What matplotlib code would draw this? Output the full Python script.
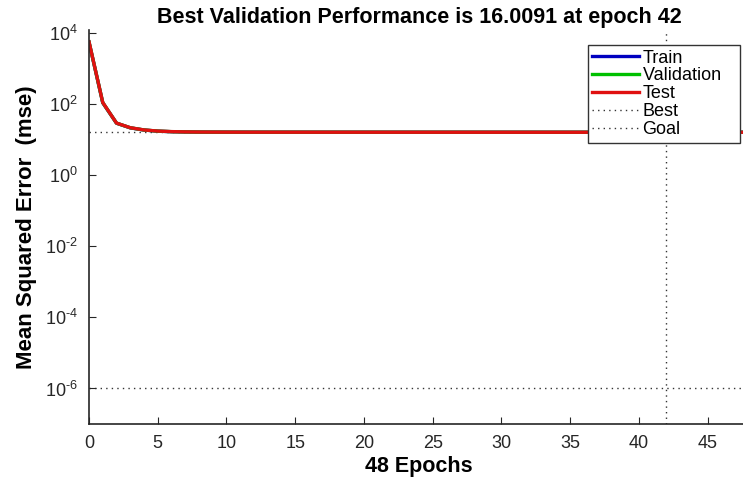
import matplotlib.pyplot as plt
import numpy as np

plt.rcParams['font.family'] = ['Liberation Sans', 'DejaVu Sans']
plt.rcParams['mathtext.fontset'] = 'custom'
plt.rcParams['mathtext.rm'] = 'Liberation Sans'

# performance per epoch
epochs = np.arange(0, 49)
test_mse = [5600, 110, 29, 21.5, 18.6, 17.3, 16.7, 16.4, 16.25, 16.18,
             16.14, 16.11, 16.1, 16.09, 16.08, 16.08, 16.07, 16.07, 16.06, 16.06,
             16.06, 16.05, 16.05, 16.05, 16.04, 16.04, 16.04, 16.03, 16.03, 16.03,
             16.03, 16.02, 16.02, 16.02, 16.02, 16.02, 16.01, 16.01, 16.01, 16.01,
             16.01, 16.01, 16.01, 16.01, 16.01, 16.01, 16.01, 16.01, 16.01]
train_mse = [5500, 108, 28.8, 21.3, 18.5, 17.2, 16.6, 16.35, 16.2, 16.15,
              16.12, 16.1, 16.09, 16.08, 16.07, 16.07, 16.06, 16.06, 16.05, 16.05,
              16.05, 16.04, 16.04, 16.04, 16.03, 16.03, 16.03, 16.03, 16.02, 16.02,
              16.02, 16.02, 16.02, 16.01, 16.01, 16.01, 16.01, 16.01, 16.01, 16.01,
              16.01, 16.01, 16.01, 16.01, 16.01, 16.01, 16.01, 16.01, 16.01]
val_mse = [5550, 109, 28.9, 21.4, 18.55, 17.25, 16.65, 16.38, 16.22, 16.16,
            16.13, 16.1, 16.09, 16.08, 16.08, 16.07, 16.07, 16.06, 16.06, 16.05,
            16.05, 16.05, 16.04, 16.04, 16.04, 16.03, 16.03, 16.03, 16.03, 16.02,
            16.02, 16.02, 16.02, 16.02, 16.01, 16.01, 16.01, 16.01, 16.01, 16.01,
            16.01, 16.0091, 16.0091, 16.01, 16.01, 16.01, 16.01, 16.01, 16.01]
best_epoch = 42
best_perf = 16.0091
goal = 1e-6
n_epochs = 48
ytick_exps = [-6, -4, -2, 0, 2, 4]

fig = plt.figure(figsize=(7.43, 4.79), dpi=100)
ax = fig.add_axes([0.1198, 0.1148, 0.888, 0.8225])

# trailing spaces give the legend box its extra right padding
ax.plot(epochs, train_mse, color='#0000c0', lw=2.4, label='Train')
ax.plot(epochs, val_mse, color='#00c000', lw=2.4, label='Validation   ')
ax.plot(epochs, test_mse, color='#e01010', lw=2.4, label='Test')
ax.axhline(best_perf, color='#333333', ls=(0, (1, 3)), lw=1, label='Best', zorder=1)
ax.axvline(best_epoch, color='#333333', ls=(0, (1, 3)), lw=1, zorder=1)
ax.axhline(goal, color='#333333', ls=(0, (1, 3)), lw=1, label='Goal', zorder=1)

ax.set_yscale('log')
ax.set_xlim(0, n_epochs)
ax.set_ylim(1e-7, 1.2e4)
ax.set_yticks([10.0 ** e for e in ytick_exps])
ax.set_yticklabels([r'$\mathregular{10^{%s}}$' % (r'\text{-}%d' % -e if e < 0 else str(e))
                    for e in ytick_exps])
ax.yaxis.set_minor_locator(plt.NullLocator())
ax.set_xticks(np.arange(0, 46, 5))

for s in ['top', 'right']:
    ax.spines[s].set_visible(False)
for s in ['left', 'bottom']:
    ax.spines[s].set_color('#262626')
    ax.spines[s].set_linewidth(1.2)
ax.tick_params(direction='in', length=5, labelsize=13, colors='#262626', pad=8)

ax.set_title('Best Validation Performance is 16.0091 at epoch 42',
             fontsize=15.5, fontweight='bold', pad=5)
ax.set_xlabel('48 Epochs', fontsize=15.5, fontweight='bold', labelpad=3)
ax.set_ylabel('Mean Squared Error  (mse)', fontsize=16, fontweight='bold', labelpad=6)

leg = ax.legend(loc='upper right', bbox_to_anchor=(0.987, 0.962), fontsize=13,
                handlelength=2.6, handletextpad=0.2, borderpad=0.25, labelspacing=0.05,
                fancybox=False, framealpha=1, borderaxespad=0)
leg.get_frame().set_edgecolor('#333333')

fig.savefig('out.png', dpi=100)
